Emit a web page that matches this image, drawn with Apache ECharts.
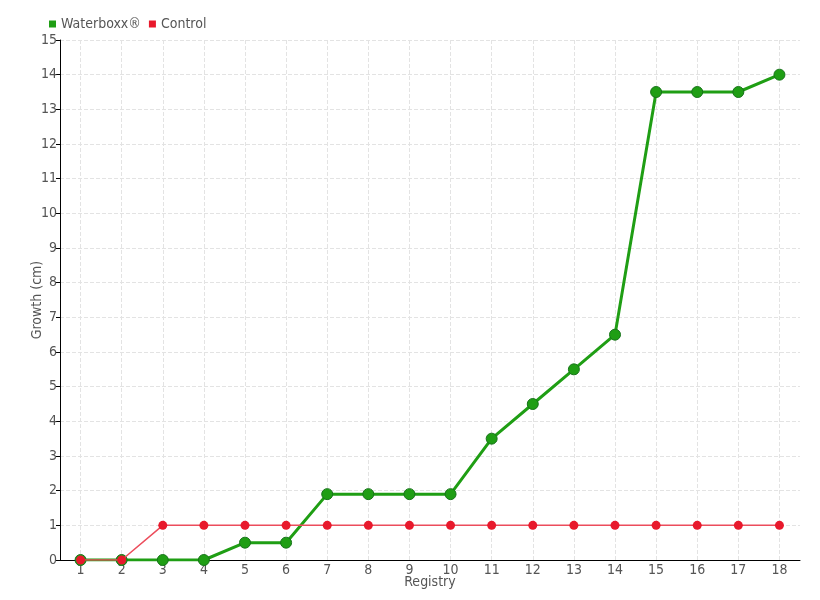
<!DOCTYPE html>
<html><head><meta charset="utf-8">
<script src="https://cdn.jsdelivr.net/npm/echarts@6/dist/echarts.min.js"></script>
<style>html,body{margin:0;padding:0;background:#fff}#c{width:820px;height:600px}</style>
</head><body><div id="c"></div>
<script>
const categories = ['1','2','3','4','5','6','7','8','9','10','11','12','13','14','15','16','17','18'];
const waterboxx = [0,0,0,0,0.5,0.5,1.9,1.9,1.9,1.9,3.5,4.5,5.5,6.5,13.5,13.5,13.5,14];
const control = [0,0,1,1,1,1,1,1,1,1,1,1,1,1,1,1,1,1];
const font = '"DejaVu Sans Condensed", "DejaVu Sans", sans-serif';
const chart = echarts.init(document.getElementById('c'));
chart.setOption({
  animation:false,
  textStyle:{fontFamily:font},
  legend:{left:44,top:12,itemWidth:7,itemHeight:7,itemGap:8,icon:'rect',
    textStyle:{fontFamily:font,fontSize:14,color:'#555'},
    data:[{name:'Waterboxx®',itemStyle:{borderWidth:0,color:'#1f9e14'}},{name:'Control',itemStyle:{borderWidth:0}}]},
  grid:{left:60,right:20,top:40,bottom:40},
  xAxis:{type:'category',data:categories,boundaryGap:true,
    name:'Registry',nameLocation:'middle',nameGap:15,nameMoveOverlap:false,
    nameTextStyle:{fontFamily:font,fontSize:14,color:'#555'},
    axisLine:{lineStyle:{color:'#000',width:1}},
    axisTick:{show:false,alignWithLabel:true},
    axisLabel:{fontFamily:font,fontSize:14,color:'#555',margin:3},
    splitLine:{show:true,interval:0,alignWithLabel:true,lineStyle:{color:'#e3e3e3',type:'dashed',width:1}}
  },
  yAxis:{type:'value',min:0,max:15,interval:1,
    name:'Growth (cm)',nameLocation:'middle',nameGap:16,nameMoveOverlap:false,
    nameTextStyle:{fontFamily:font,fontSize:14,color:'#555'},
    axisLine:{show:true,lineStyle:{color:'#000',width:1}},
    axisTick:{show:true,length:4,lineStyle:{color:'#000'}},
    axisLabel:{fontFamily:font,fontSize:14,color:'#555',margin:3},
    splitLine:{show:true,lineStyle:{color:'#e3e3e3',type:'dashed',width:1}}
  },
  series:[
    {name:'Waterboxx®',type:'line',data:waterboxx,symbol:'circle',symbolSize:11,
      itemStyle:{color:'#1f9e14',borderColor:'#17731a',borderWidth:1},
      lineStyle:{color:'#1f9e14',width:3},z:2},
    {name:'Control',type:'line',data:control,symbol:'circle',symbolSize:9,
      itemStyle:{color:'#e8192c',borderWidth:0},
      lineStyle:{color:'#ec4d5c',width:1.5},z:3}
  ]
});
</script></body></html>
